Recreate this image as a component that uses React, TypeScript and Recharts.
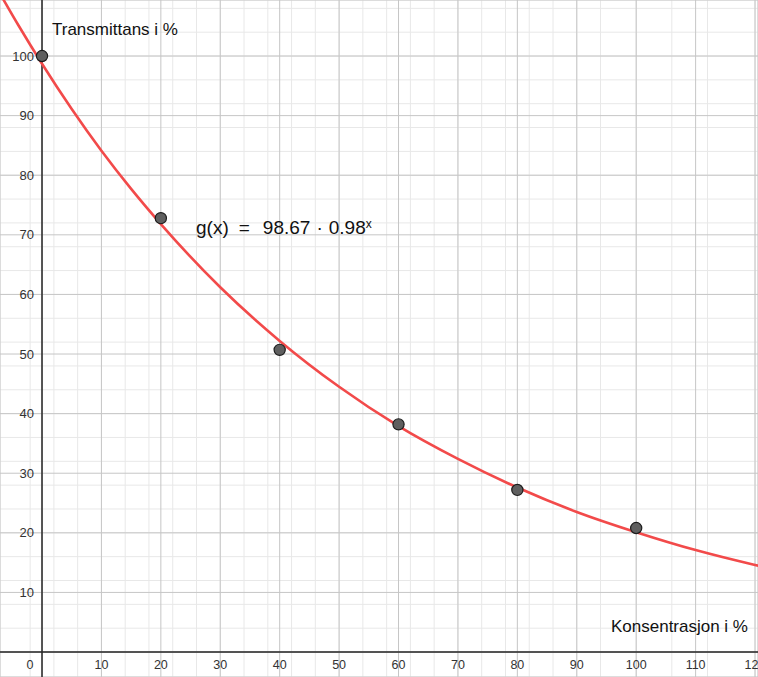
import { ComposedChart, Line, Scatter, XAxis, YAxis, CartesianGrid, ReferenceLine, ReferenceDot } from "recharts";

// målepunkter
const konsentrasjon = [0, 20, 40, 60, 80, 100];
const transmittans = [100, 72.8, 50.7, 38.2, 27.2, 20.8];

// g(x) lest av kurven
const kurveX = [-8, -4, 0, 5, 10, 15, 20, 30, 40, 50, 60, 70, 80, 90, 100, 110, 120, 124];
const kurveY = [112.1, 105.2, 98.7, 91.1, 84.1, 77.7, 71.8, 61.2, 52.2, 44.5, 37.9, 32.4, 27.6, 23.5, 20.1, 17.1, 14.6, 13.7];

const xTicks = [0, 10, 20, 30, 40, 50, 60, 70, 80, 90, 100, 110, 120];
const yTicks = [0, 10, 20, 30, 40, 50, 60, 70, 80, 90, 100];
const yLabels = [10, 20, 30, 40, 50, 60, 70, 80, 90, 100];

const steps = (from: number, to: number, step: number) => {
  const out: number[] = [];
  for (let v = from; v <= to; v += step) out.push(v);
  return out;
};
const xMinor = steps(-6, 120, 2);
const yMinor = steps(-4, 108, 2);

const xDomain = [-7.07, 120.5];
const yDomain = [-4.19, 109.4];

const points = konsentrasjon.map((x, i) => ({ x, y: transmittans[i] }));
const curve = kurveX.map((x, i) => ({ x, g: kurveY[i] }));

const FONT = '"Liberation Sans", Arial, sans-serif';
const tickStyle = { fill: "#333", fontSize: 12.5, fontFamily: FONT };

const PointShape = (props: any) => (
  <circle cx={props.cx} cy={props.cy} r={5.6} fill="#5f5f5f" stroke="#1c1c1c" strokeWidth={1.2} />
);

export default function App() {
  return (
    <div style={{ position: "absolute", left: 0, top: 0, width: 758, height: 677, background: "#fff", fontFamily: FONT }}>
      <ComposedChart width={758} height={677} margin={{ top: 0, right: 0, bottom: 0, left: 0 }}>
        <XAxis xAxisId="minor" type="number" dataKey="x" domain={xDomain} ticks={xMinor} allowDataOverflow hide />
        <YAxis yAxisId="minor" type="number" domain={yDomain} ticks={yMinor} allowDataOverflow hide />
        <XAxis type="number" dataKey="x" domain={xDomain} ticks={xTicks} allowDataOverflow hide />
        <YAxis type="number" domain={yDomain} ticks={yTicks} allowDataOverflow hide />
        <CartesianGrid xAxisId="minor" yAxisId="minor" stroke="#e8e8e8" strokeWidth={1} />
        <CartesianGrid stroke="#c6c6c6" strokeWidth={1} />
        <ReferenceLine x={0} stroke="#262626" strokeWidth={1.5} />
        <ReferenceLine y={0} stroke="#262626" strokeWidth={1.5} />
        <Line data={curve} dataKey="g" type="monotone" stroke="#f24a4a" strokeWidth={2.6} dot={false} isAnimationActive={false} />
        <Scatter data={points} dataKey="y" shape={PointShape} isAnimationActive={false} />
        {xTicks.map((t) =>
          t === 0 ? (
            <ReferenceDot
              key={"x" + t}
              x={t}
              y={0}
              r={0}
              fill="none"
              stroke="none"
              label={{
                content: (p: any) => (
                  <text x={p.viewBox.x - 12} y={p.viewBox.y + 8} dy="0.71em" textAnchor="middle" {...tickStyle}>
                    0
                  </text>
                ),
              }}
            />
          ) : (
            <ReferenceDot
              key={"x" + t}
              x={t}
              y={0}
              r={0}
              fill="none"
              stroke="none"
              label={{ value: String(t), position: "bottom", offset: 8, ...tickStyle }}
            />
          )
        )}
        {yLabels.map((t) => (
          <ReferenceDot
            key={"y" + t}
            x={0}
            y={t}
            r={0}
            fill="none"
            stroke="none"
            label={{ value: String(t), position: "left", offset: 8, ...tickStyle, fontSize: 13 }}
          />
        ))}
      </ComposedChart>
      <div style={{ position: "absolute", left: 52, top: 20, fontSize: 17, color: "#111", whiteSpace: "nowrap" }}>
        Transmittans i %
      </div>
      <div style={{ position: "absolute", right: 10, top: 617, fontSize: 17, color: "#111", whiteSpace: "nowrap" }}>
        Konsentrasjon i %
      </div>
      <div style={{ position: "absolute", left: 196, top: 217, fontSize: 19, color: "#111", whiteSpace: "nowrap" }}>
        g(x)<span style={{ margin: "0 13px 0 10px" }}>=</span>98.67<span style={{ margin: "0 6px" }}>·</span>0.98
        <sup style={{ fontSize: 12, verticalAlign: "6px" }}>x</sup>
      </div>
    </div>
  );
}
